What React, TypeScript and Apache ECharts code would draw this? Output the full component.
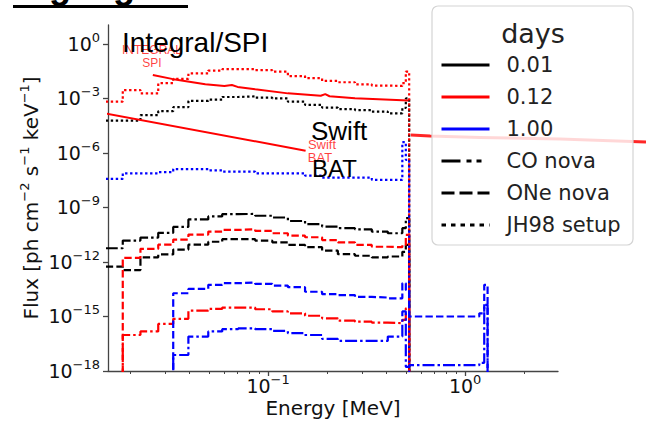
import React, { useEffect, useRef } from 'react';
import * as echarts from 'echarts';

// ---------- data ----------
const FLOOR = 1e-30; // empty bin (below the axis)
const X_MIN = 0.0154;
const X_MAX = 2.96;
const Y_MIN = 1e-18;
const Y_MAX = 11;

const xMajorTicks = [0.1, 1];
const xMinorTicks = [0.02, 0.03, 0.04, 0.05, 0.06, 0.07, 0.08, 0.09, 0.2, 0.3, 0.4, 0.5, 0.6, 0.7, 0.8, 0.9, 2];
const yMajorTicks = [1e-18, 1e-15, 1e-12, 1e-9, 1e-6, 1e-3, 1];

// histogram bin edges (MeV)
const binEdges = [0.015, 0.0183, 0.0225, 0.0277, 0.033, 0.0394, 0.0497, 0.0585, 0.0705, 0.086, 0.105,
  0.126, 0.154, 0.188, 0.226, 0.276, 0.336, 0.405, 0.48, 0.5, 0.52];
// extra bins above 0.52 MeV (1.00 day curves)
const tailEdges = [1.18, 1.25, 1.3];

// CO nova
const coNova001 = [5.7e-12, 1.5e-11, 2.2e-11, 4.0e-11, 8.5e-11, 2.2e-10, 3.2e-10, 4.3e-10, 4.4e-10, 3.5e-10,
  2.8e-10, 1.8e-10, 1.2e-10, 8.9e-11, 7.2e-11, 6.3e-11, 4.7e-11, 3.8e-11, 7.2e-11, 2.6e-10];
const coNova012 = [FLOOR, 9.6e-17, 1.5e-16, 3.9e-16, 7.4e-16, 2.1e-15, 2.6e-15, 3.1e-15, 3.1e-15, 2.5e-15,
  1.9e-15, 1.5e-15, 1.1e-15, 7.9e-16, 5.9e-16, 5.2e-16, 4.6e-16, 4.3e-16, 6.5e-16, 2.8e-15];
const coNova100 = [FLOOR, FLOOR, FLOOR, FLOOR, 7.6e-18, 7.8e-17, 1.5e-16, 2.0e-16, 2.2e-16, 2.0e-16,
  1.6e-16, 1.2e-16, 9.6e-17, 5.8e-17, 4.5e-17, 4.5e-17, 4.5e-17, 7.8e-17, 1.9e-15, 1.7e-18];
const coNova100Tail = [2.1e-18, 2.8e-18, 4.4e-15];

// ONe nova
const oneNova001 = [5.5e-13, 3.6e-13, 1.8e-12, 2.6e-12, 4.8e-12, 9.0e-12, 1.3e-11, 1.8e-11, 1.8e-11, 1.5e-11,
  1.2e-11, 8.7e-12, 6.5e-12, 4.2e-12, 2.7e-12, 2.2e-12, 1.8e-12, 2.0e-12, 3.6e-12, 8.7e-12];
const oneNova012 = [FLOOR, 1.7e-12, 5.3e-12, 9.0e-12, 1.7e-11, 3.2e-11, 4.7e-11, 5.8e-11, 6.3e-11, 5.1e-11,
  3.8e-11, 2.8e-11, 2.3e-11, 1.6e-11, 1.2e-11, 8.7e-12, 6.9e-12, 6.5e-12, 8.7e-12, 3.1e-11];
const oneNova100 = [FLOOR, FLOOR, FLOOR, FLOOR, 1.9e-14, 3.3e-14, 5.5e-14, 6.8e-14, 7.3e-14, 6.2e-14,
  5.0e-14, 4.1e-14, 2.3e-14, 1.7e-14, 1.5e-14, 1.2e-14, 1.1e-14, 1.0e-14, 6.8e-14, 2.9e-14];
const oneNova100Tail = [1.0e-15, 1.5e-15, 5.5e-14];

// JH98 setup
const jh98001 = [6.0e-5, 6.0e-5, 1.2e-4, 2.0e-4, 3.3e-4, 7.3e-4, 8.6e-4, 1.2e-3, 1.3e-3, 1.1e-3,
  1.0e-3, 6.6e-4, 4.4e-4, 3.1e-4, 2.6e-4, 2.3e-4, 1.9e-4, 1.5e-4, 3.0e-4, 1.0e-3];
const jh98012 = [6.6e-4, 2.9e-3, 1.9e-3, 6.9e-3, 1.2e-2, 2.4e-2, 3.4e-2, 4.1e-2, 4.1e-2, 3.6e-2,
  3.0e-2, 1.7e-2, 1.3e-2, 9.2e-3, 7.8e-3, 6.0e-3, 5.1e-3, 4.9e-3, 6.9e-3, 3.0e-2];
const jh98100 = [3.7e-8, 7.6e-8, 7.6e-8, 8.7e-8, 1.3e-7, 1.3e-7, 1.1e-7, 9.3e-8, 9.3e-8, 7.6e-8,
  7.6e-8, 7.6e-8, 5.6e-8, 4.4e-8, 4.4e-8, 4.4e-8, 3.3e-8, 3.3e-8, 3.9e-6, 4.2e-7];

// instrument sensitivities
const spiEnergy = [0.026, 0.0325, 0.048, 0.06, 0.0655, 0.07, 0.086, 0.126, 0.185, 0.195, 0.205, 0.276, 0.514];
const spiFlux = [0.0197, 0.0119, 0.0061, 0.0048, 0.0055, 0.0043, 0.0032, 0.0019, 0.0014, 0.00172, 0.00132, 0.00103, 0.00076];
const batEnergy = [0.014, 0.155];
const batFlux = [1.72e-4, 1.33e-6];

const legendNames = ['0.01', '0.12', '1.00', 'CO nova', 'ONe nova', 'JH98 setup'];

// ---------- styles ----------
const BLACK = '#000000';
const RED = '#ff0000';
const BLUE = '#0000ff';
const AXIS = '#444444';
const FONT = 'DejaVu Sans';
const SLIDE_FONT = 'Liberation Sans';
const DASHDOT = [12, 3, 2.5, 3];
const DASHED = [7.4, 3.2];
const DOTTED = [2.4, 2.6];

const legendStyles: Record<string, { color: string; type: any }> = {
  '0.01': { color: BLACK, type: 'solid' },
  '0.12': { color: RED, type: 'solid' },
  '1.00': { color: BLUE, type: 'solid' },
  'CO nova': { color: BLACK, type: [19, 6, 5, 5, 5, 30] },
  'ONe nova': { color: BLACK, type: [13, 5] },
  'JH98 setup': { color: BLACK, type: [4.5, 5] },
};

function histogram(edges: number[], values: number[]): number[][] {
  const pts = values.map((v, i) => [edges[i], v]);
  pts.push([edges[edges.length - 1], FLOOR]);
  return pts;
}

function pairs(xs: number[], ys: number[]): number[][] {
  return xs.map((x, i) => [x, ys[i]]);
}

function supLabel(v: number): string {
  const e = Math.round(Math.log10(v));
  const s = e < 0 ? '\u2212' + String(-e) : String(e);
  return `{b|10}{s|${s}}`;
}

const tickRich = {
  b: { fontSize: 19, fontFamily: FONT, color: '#111', lineHeight: 26 },
  s: { fontSize: 13, fontFamily: FONT, color: '#111', lineHeight: 12, verticalAlign: 'top' },
};

export default function App() {
  const ref = useRef<HTMLDivElement>(null);

  useEffect(() => {
    if (!ref.current) return;
    const chart = echarts.init(ref.current, undefined, { renderer: 'svg' });

    const allEdges = binEdges.concat(tailEdges);
    const curves = [
      { name: 'CO nova, 0.01 d', color: BLACK, dash: DASHDOT, data: histogram(binEdges, coNova001) },
      { name: 'ONe nova, 0.01 d', color: BLACK, dash: DASHED, data: histogram(binEdges, oneNova001) },
      { name: 'JH98, 0.01 d', color: BLACK, dash: DOTTED, data: histogram(binEdges, jh98001) },
      { name: 'CO nova, 0.12 d', color: RED, dash: DASHDOT, data: histogram(binEdges, coNova012) },
      { name: 'ONe nova, 0.12 d', color: RED, dash: DASHED, data: histogram(binEdges, oneNova012) },
      { name: 'JH98, 0.12 d', color: RED, dash: DOTTED, data: histogram(binEdges, jh98012) },
      { name: 'CO nova, 1.00 d', color: BLUE, dash: DASHDOT, data: histogram(allEdges, coNova100.concat(coNova100Tail)) },
      { name: 'ONe nova, 1.00 d', color: BLUE, dash: DASHED, data: histogram(allEdges, oneNova100.concat(oneNova100Tail)) },
      { name: 'JH98, 1.00 d', color: BLUE, dash: DOTTED, data: histogram(binEdges, jh98100) },
    ];

    const curveSeries = curves.map((c) => ({
      type: 'line',
      name: c.name,
      data: c.data,
      step: 'end',
      symbol: 'none',
      clip: true,
      silent: true,
      lineStyle: { color: c.color, width: 2.2, type: c.dash },
      itemStyle: { color: c.color },
      z: 2,
    }));

    const sensitivitySeries = [
      { name: 'INTEGRAL SPI', data: pairs(spiEnergy, spiFlux) },
      { name: 'Swift BAT', data: pairs(batEnergy, batFlux) },
    ].map((s) => ({
      type: 'line',
      name: s.name,
      data: s.data,
      symbol: 'none',
      clip: true,
      silent: true,
      lineStyle: { color: RED, width: 2, type: 'solid' },
      itemStyle: { color: RED },
      z: 3,
    }));

    const legendSeries = legendNames.map((n) => ({
      type: 'line',
      name: n,
      data: [],
      symbol: 'none',
      showSymbol: false,
      silent: true,
      lineStyle: { color: legendStyles[n].color, width: 3, type: legendStyles[n].type },
      itemStyle: { color: legendStyles[n].color },
    }));

    chart.setOption({
      animation: false,
      backgroundColor: '#ffffff',
      grid: { left: 108, top: 25, width: 450, height: 346, containLabel: false },
      xAxis: [
        {
          type: 'log',
          logBase: 10,
          min: X_MIN,
          max: X_MAX,
          position: 'bottom',
          axisLine: { show: true, onZero: false, lineStyle: { color: AXIS, width: 1.3 } },
          axisTick: { show: true, length: 5, customValues: xMajorTicks, lineStyle: { color: AXIS, width: 1.3 } },
          axisLabel: { show: true, customValues: xMajorTicks, formatter: supLabel, rich: tickRich, margin: 2 },
          splitLine: { show: false },
          minorTick: { show: false },
          minorSplitLine: { show: false },
          name: 'Energy [MeV]',
          nameLocation: 'middle',
          nameGap: 27,
          nameMoveOverlap: false,
          nameTextStyle: { fontSize: 20, fontFamily: FONT, color: '#111' },
        },
        {
          type: 'log',
          logBase: 10,
          min: X_MIN,
          max: X_MAX,
          position: 'bottom',
          axisLine: { show: false, onZero: false },
          axisTick: { show: true, length: 3, customValues: xMinorTicks, lineStyle: { color: AXIS, width: 1 } },
          axisLabel: { show: false },
          splitLine: { show: false },
        },
      ],
      yAxis: {
        type: 'log',
        logBase: 10,
        min: Y_MIN,
        max: Y_MAX,
        axisLine: { show: true, onZero: false, lineStyle: { color: AXIS, width: 1.3 } },
        axisTick: { show: true, length: 5, customValues: yMajorTicks, lineStyle: { color: AXIS, width: 1.3 } },
        axisLabel: { show: true, customValues: yMajorTicks, formatter: supLabel, rich: tickRich, margin: 8 },
        splitLine: { show: false },
        minorTick: { show: false },
        name: '{n|Flux [ph cm}{s|\u22122}{n| s}{s|\u22121}{n| keV}{s|\u22121}{n|]}',
        nameLocation: 'middle',
        nameGap: 64,
        nameRotate: 90,
        nameMoveOverlap: false,
        nameTextStyle: {
          rich: {
            n: { fontSize: 20, fontFamily: FONT, color: '#111', lineHeight: 26 },
            s: { fontSize: 13, fontFamily: FONT, color: '#111', lineHeight: 12, verticalAlign: 'top' },
          },
        },
      },
      legend: {
        show: true,
        orient: 'vertical',
        left: 440,
        top: 54,
        padding: 0,
        itemGap: 10,
        itemWidth: 48,
        itemHeight: 22,
        selectedMode: false,
        z: 5,
        data: legendNames,
        itemStyle: { opacity: 0, borderWidth: 0, color: 'rgba(0,0,0,0)' },
        lineStyle: { width: 3 },
        textStyle: { fontSize: 21, fontFamily: FONT, color: '#222', lineHeight: 22, padding: [0, 0, 0, 12] },
      },
      graphic: {
        elements: [
          {
            type: 'polyline',
            z: 2,
            silent: true,
            shape: { points: [[411, 135], [430, 136], [480, 137.5], [560, 139], [646, 142]] },
            style: { stroke: 'rgba(255,0,0,0.85)', lineWidth: 3, fill: null },
          },
          {
            type: 'rect',
            z: 3,
            silent: true,
            shape: { x: 432, y: 6, width: 201, height: 239, r: 6 },
            style: { fill: 'rgba(255,255,255,0.82)', stroke: '#d4d4d4', lineWidth: 1.2 },
          },
          {
            type: 'text',
            z: 6,
            silent: true,
            x: 533,
            y: 33,
            style: { text: 'days', fontSize: 27, fontFamily: FONT, fill: '#222', align: 'center', verticalAlign: 'middle' },
          },
          {
            type: 'text',
            z: 6,
            silent: true,
            x: 13,
            y: -15,
            style: { text: 'Highlights', fontSize: 36, fontWeight: 'bold', fontFamily: SLIDE_FONT, fill: '#000', align: 'left', verticalAlign: 'middle' },
          },
          {
            type: 'rect',
            z: 6,
            silent: true,
            shape: { x: 13, y: 5, width: 175, height: 3 },
            style: { fill: '#000' },
          },
          {
            type: 'text',
            z: 6,
            silent: true,
            x: 152,
            y: 49.7,
            style: { text: 'INTEGRAL', fontSize: 12, fontFamily: SLIDE_FONT, fill: 'rgba(255,0,0,0.75)', align: 'center', verticalAlign: 'middle' },
          },
          {
            type: 'text',
            z: 6,
            silent: true,
            x: 152,
            y: 62.5,
            style: { text: 'SPI', fontSize: 12, fontFamily: SLIDE_FONT, fill: 'rgba(255,0,0,0.75)', align: 'center', verticalAlign: 'middle' },
          },
          {
            type: 'text',
            z: 7,
            silent: true,
            x: 122,
            y: 42,
            style: { text: 'Integral/SPI', fontSize: 28, fontFamily: SLIDE_FONT, fill: '#000', align: 'left', verticalAlign: 'middle' },
          },
          {
            type: 'text',
            z: 6,
            silent: true,
            x: 322,
            y: 144,
            style: { text: 'Swift', fontSize: 13, fontFamily: SLIDE_FONT, fill: 'rgba(255,0,0,0.75)', align: 'center', verticalAlign: 'middle' },
          },
          {
            type: 'text',
            z: 6,
            silent: true,
            x: 320,
            y: 157,
            style: { text: 'BAT', fontSize: 13, fontFamily: SLIDE_FONT, fill: 'rgba(255,0,0,0.75)', align: 'center', verticalAlign: 'middle' },
          },
          {
            type: 'text',
            z: 7,
            silent: true,
            x: 311,
            y: 131,
            style: { text: 'Swift', fontSize: 26, fontFamily: SLIDE_FONT, fill: '#000', align: 'left', verticalAlign: 'middle' },
          },
          {
            type: 'text',
            z: 7,
            silent: true,
            x: 312,
            y: 168,
            style: { text: 'BAT', fontSize: 24, fontFamily: SLIDE_FONT, fill: '#000', align: 'left', verticalAlign: 'middle' },
          },
        ],
      },
      series: [...curveSeries, ...sensitivitySeries, ...legendSeries],
    });

    return () => {
      chart.dispose();
    };
  }, []);

  return (
    <div
      ref={ref}
      style={{ position: 'fixed', left: 0, top: 0, width: 646, height: 424, background: '#ffffff' }}
    />
  );
}
